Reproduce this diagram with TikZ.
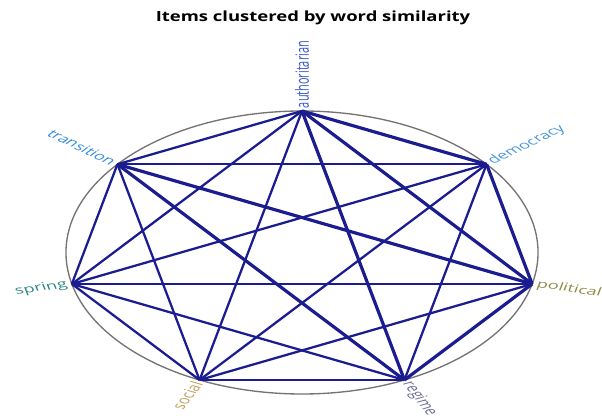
\documentclass[tikz,border=0pt]{standalone}
\usepackage{fontspec}
\setmainfont{Open Sans}
\definecolor{edgeblue}{RGB}{28,28,145}
\definecolor{cAuth}{RGB}{60,90,200}
\definecolor{cTrans}{RGB}{50,140,220}
\definecolor{cDem}{RGB}{70,150,220}
\definecolor{cSpring}{RGB}{45,135,135}
\definecolor{cPol}{RGB}{140,140,70}
\definecolor{cSoc}{RGB}{190,160,90}
\definecolor{cReg}{RGB}{110,110,150}
\tikzset{
  edgeN/.style={draw=edgeblue,line width=1.7pt},
  edgeT/.style={draw=edgeblue,line width=2.4pt},
  rim/.style={draw=gray!90!black,line width=1pt},
  lblR/.style={anchor=west,inner sep=2pt,font=\fontsize{8.2}{9}\selectfont,transform shape},
  lblL/.style={anchor=east,inner sep=2pt,font=\fontsize{8.2}{9}\selectfont,transform shape},
  titlestyle/.style={font=\bfseries\fontsize{10.5}{12}\selectfont,inner sep=0pt,xscale=1.32,transform shape}
}
\begin{document}
\begin{tikzpicture}[x=0.75pt,y=0.75pt]
\useasboundingbox (0,0) rectangle (602,416);
\node[titlestyle] (title) at (313,398) {Items clustered by word similarity};
\begin{scope}[shift={(302,163.5)},xscale=1.668]
  \draw[rim] (0,0) circle (141.5);
  \coordinate (au) at (90:141.5);
  \coordinate (de) at (38.571:141.5);
  \coordinate (po) at (-12.857:141.5);
  \coordinate (re) at (-64.286:141.5);
  \coordinate (so) at (-115.714:141.5);
  \coordinate (sp) at (-167.143:141.5);
  \coordinate (tr) at (141.429:141.5);
  % edges
  \draw[edgeN] (au) -- (tr);
  \draw[edgeT] (au) -- (de);
  \draw[edgeN] (au) -- (sp);
  \draw[edgeN] (au) -- (so);
  \draw[edgeT] (au) -- (re);
  \draw[edgeT] (au) -- (po);
  \draw[edgeN] (tr) -- (de);
  \draw[edgeT] (tr) -- (po);
  \draw[edgeT] (tr) -- (re);
  \draw[edgeN] (tr) -- (sp);
  \draw[edgeN] (tr) -- (so);
  \draw[edgeN] (de) -- (sp);
  \draw[edgeN] (de) -- (so);
  \draw[edgeT] (de) -- (po);
  \draw[edgeN] (de) -- (re);
  \draw[edgeN] (sp) -- (po);
  \draw[edgeN] (sp) -- (re);
  \draw[edgeN] (sp) -- (so);
  \draw[edgeN] (po) -- (so);
  \draw[edgeT] (po) -- (re);
  \draw[edgeN] (so) -- (re);
  % labels
  \node[lblR,rotate=90,text=cAuth] (lau) at (au) {authoritarian};
  \node[lblR,rotate=38.571,text=cDem] (lde) at (de) {democracy};
  \node[lblR,rotate=-12.857,text=cPol] (lpo) at (po) {political};
  \node[lblR,rotate=-64.286,text=cReg] (lre) at (re) {regime};
  \node[lblL,rotate=64.286,text=cSoc] (lso) at (so) {social};
  \node[lblL,rotate=12.857,text=cSpring] (lsp) at (sp) {spring};
  \node[lblL,rotate=-38.571,text=cTrans] (ltr) at (tr) {transition};
\end{scope}
\end{tikzpicture}
\end{document}
